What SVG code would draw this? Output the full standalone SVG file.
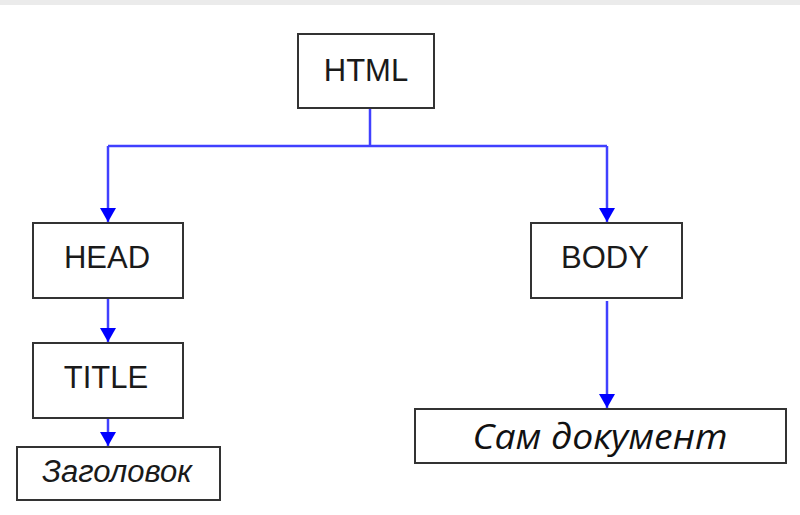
<svg xmlns="http://www.w3.org/2000/svg" width="800" height="515" viewBox="0 0 800 515">
<style>
.box{fill:#fff;stroke:#333;stroke-width:2}
.lbl{font-family:"Liberation Sans",Arial,sans-serif;font-size:31px;fill:#1a1a1a;text-anchor:middle}
.it{font-style:italic}
.doc{font-family:"Open Sans","Noto Sans",sans-serif;font-style:italic;font-size:34px;fill:#111;text-anchor:middle}
.con{fill:none;stroke:#4040ff;stroke-width:2.5}
</style>
<defs>
<marker id="ah" markerWidth="14" markerHeight="16" refX="14" refY="8" orient="auto" markerUnits="userSpaceOnUse" viewBox="0 0 14 16">
<path d="M0,0 L14,8 L0,16 Z" fill="#0000ff"/>
</marker>
</defs>
<rect x="0" y="0" width="800" height="515" fill="#fff"/>
<rect x="0" y="0" width="800" height="5" fill="#ebebeb"/>
<g id="connectors">
<path class="con" d="M370,108 V146"/>
<path class="con" d="M108,146 H607"/>
<path class="con" d="M108,146 V222" marker-end="url(#ah)"/>
<path class="con" d="M607,146 V222" marker-end="url(#ah)"/>
<path class="con" d="M108,298 V342" marker-end="url(#ah)"/>
<path class="con" d="M108,418 V446" marker-end="url(#ah)"/>
<path class="con" d="M607,301 V408" marker-end="url(#ah)"/>
</g>
<g id="html"><rect class="box" x="298" y="34" width="136" height="74"/><text class="lbl" x="366" y="81">HTML</text></g>
<g id="head"><rect class="box" x="33" y="223" width="150" height="75"/><text class="lbl" x="107" y="268">HEAD</text></g>
<g id="title"><rect class="box" x="33" y="343" width="150" height="75"/><text class="lbl" x="106" y="388">TITLE</text></g>
<g id="zagolovok"><rect class="box" x="17" y="447" width="203" height="53"/><text class="lbl it" x="117" y="482" font-size="29">Заголовок</text></g>
<g id="body"><rect class="box" x="531" y="223" width="151" height="75"/><text class="lbl" x="605" y="268">BODY</text></g>
<g id="doc"><rect class="box" x="415" y="409" width="371" height="54"/><text class="doc" x="600" y="449" textLength="255" lengthAdjust="spacingAndGlyphs">Сам документ</text></g>
</svg>
